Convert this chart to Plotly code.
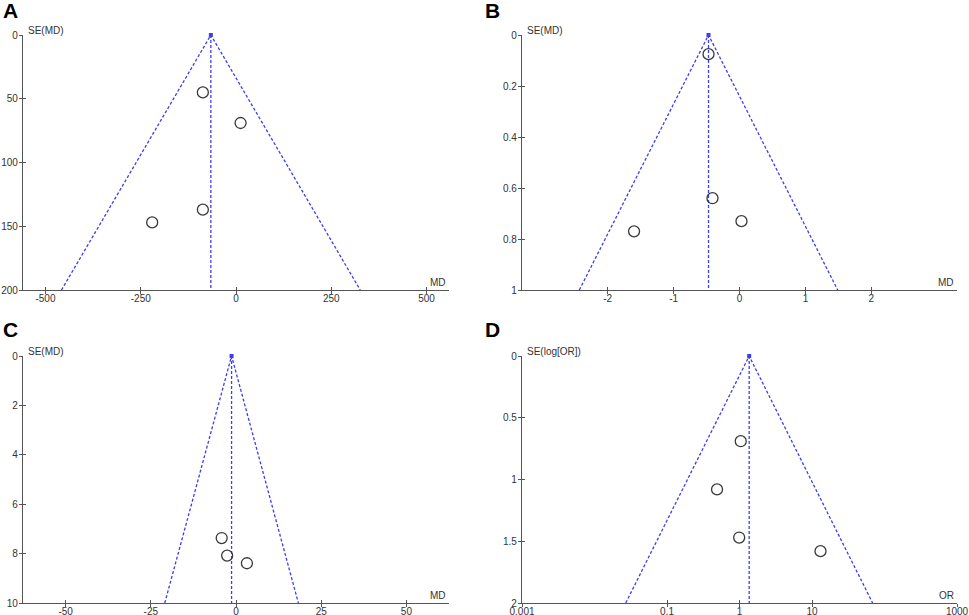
import math
import plotly.graph_objects as go

# ---------------- data ----------------
# Panel A : MD vs SE(MD)
a_md = [-87, 12, -87, -220]
a_se = [45, 69, 137, 147]
a_pooled = -66
a_se_max = 200
a_xticks = [-500, -250, 0, 250, 500]
a_yticks = [0, 50, 100, 150, 200]

# Panel B : MD vs SE(MD)
b_md = [-0.47, -0.41, 0.03, -1.60]
b_se = [0.075, 0.64, 0.73, 0.77]
b_pooled = -0.47
b_se_max = 1
b_xticks = [-2, -1, 0, 1, 2]
b_yticks = [0, 0.2, 0.4, 0.6, 0.8, 1]

# Panel C : MD vs SE(MD)
c_md = [-4.2, -2.6, 3.2]
c_se = [7.37, 8.08, 8.39]
c_pooled = -1.3
c_se_max = 10
c_xticks = [-50, -25, 0, 25, 50]
c_yticks = [0, 2, 4, 6, 8, 10]

# Panel D : OR vs SE(log[OR])
d_or = [1.04, 0.49, 0.99, 13.1]
d_se = [0.69, 1.08, 1.47, 1.58]
d_pooled = 1.36
d_se_max = 2
d_xticks = [0.001, 0.1, 1, 10, 1000]
d_xticklabels = ["0.001", "0.1", "1", "10", "1000"]
d_yticks = [0, 0.5, 1, 1.5, 2]

Z = 1.96

# ---------------- styling ----------------
BLUE = "#3d3df0"
AXC = "#555555"
TXT = "#333333"
FONT = "Liberation Sans, Arial, sans-serif"

fig = go.Figure()

panels = [
    dict(md=a_md, se=a_se, pooled=a_pooled, semax=a_se_max, log=False, n=""),
    dict(md=b_md, se=b_se, pooled=b_pooled, semax=b_se_max, log=False, n="2"),
    dict(md=c_md, se=c_se, pooled=c_pooled, semax=c_se_max, log=False, n="3"),
    dict(md=d_or, se=d_se, pooled=d_pooled, semax=d_se_max, log=True, n="4"),
]

for p in panels:
    xa, ya = "x" + p["n"], "y" + p["n"]
    c, s = p["pooled"], p["semax"]
    if p["log"]:
        lo = math.exp(math.log(c) - Z * s)
        hi = math.exp(math.log(c) + Z * s)
    else:
        lo, hi = c - Z * s, c + Z * s
    dash = dict(color=BLUE, width=1.3, dash="3px,2px")
    fig.add_trace(go.Scatter(x=[lo, c, hi], y=[s, 0, s], mode="lines",
                             line=dash, xaxis=xa, yaxis=ya, showlegend=False,
                             hoverinfo="skip"))
    fig.add_trace(go.Scatter(x=[c, c], y=[0, s], mode="lines",
                             line=dash, xaxis=xa, yaxis=ya, showlegend=False,
                             hoverinfo="skip"))
    fig.add_trace(go.Scatter(x=[c], y=[0], mode="markers",
                             marker=dict(color=BLUE, size=4, symbol="square"),
                             xaxis=xa, yaxis=ya, showlegend=False, cliponaxis=False))
    fig.add_trace(go.Scatter(x=p["md"], y=p["se"], mode="markers",
                             marker=dict(symbol="circle-open", size=11,
                                         color="#3a3a3a", line=dict(width=1.3)),
                             xaxis=xa, yaxis=ya, showlegend=False))

W, H = 969, 615
def fx(px):
    return px / W
def fy(py):
    return 1 - py / H

left_dom = [fx(23), fx(449)]
right_dom = [fx(522), fx(957)]
top_dom = [fy(290), fy(35)]
bot_dom = [fy(603), fy(356)]

tickfont = dict(family=FONT, size=10, color=TXT)

def lab(v):
    return ("%g" % v)

def xaxis(dom, anchor, rng, tickvals, ticktext=None, typ="linear"):
    return dict(domain=dom, anchor=anchor, range=rng, type=typ,
                automargin=False,
                showgrid=False, zeroline=False, showline=True, linecolor=AXC,
                linewidth=1.2, ticks="outside", ticklen=3, tickcolor=AXC,
                tickwidth=1.2, tickmode="array", tickvals=tickvals,
                ticktext=ticktext if ticktext is not None else [lab(v) for v in tickvals],
                tickfont=tickfont, ticklabelstandoff=-4)

def yaxis(dom, anchor, rng, tickvals):
    return dict(domain=dom, anchor=anchor, range=rng, automargin=False,
                showgrid=False, zeroline=False, showline=True, linecolor=AXC,
                linewidth=1.2, ticks="outside", ticklen=3, tickcolor=AXC,
                tickwidth=1.2, tickmode="array", tickvals=tickvals,
                ticktext=[lab(v) for v in tickvals],
                tickfont=tickfont, ticklabelstandoff=-1)

lay = dict(
    width=W, height=H, margin=dict(l=0, r=0, t=0, b=0),
    plot_bgcolor="white", paper_bgcolor="white",
    font=dict(family=FONT, color=TXT),
    xaxis=xaxis(left_dom, "y", [-559, 559], a_xticks),
    yaxis=yaxis(top_dom, "x", [a_se_max, 0], a_yticks),
    xaxis2=xaxis(right_dom, "y2", [-3.3, 3.3], b_xticks),
    yaxis2=yaxis(top_dom, "x2", [b_se_max, 0], b_yticks),
    xaxis3=xaxis(left_dom, "y3", [-62.5, 62.5], c_xticks),
    yaxis3=yaxis(bot_dom, "x3", [c_se_max, 0], c_yticks),
    xaxis4=xaxis(right_dom, "y4", [-3, 3], d_xticks, d_xticklabels, "log"),
    yaxis4=yaxis(bot_dom, "x4", [d_se_max, 0], d_yticks),
)

# overlay axes giving the inner half of the crossing tick marks
inner = [("", [-559, 559], a_xticks, [a_se_max, 0], a_yticks, "linear"),
         ("2", [-3.3, 3.3], b_xticks, [b_se_max, 0], b_yticks, "linear"),
         ("3", [-62.5, 62.5], c_xticks, [c_se_max, 0], c_yticks, "linear"),
         ("4", [-3, 3], d_xticks, [d_se_max, 0], d_yticks, "log")]
for i, (n, xr, xt, yr, yt, typ) in enumerate(inner):
    k = str(5 + i)
    base_x, base_y = "x" + n, "y" + n
    lay["xaxis" + k] = dict(overlaying=base_x, anchor=base_y, side="bottom",
                            range=xr, type=typ, showgrid=False, zeroline=False,
                            automargin=False,
                            showline=False, ticks="inside", ticklen=3,
                            tickcolor=AXC, tickwidth=1.2, tickmode="array",
                            tickvals=xt, showticklabels=False)
    lay["yaxis" + k] = dict(overlaying=base_y, anchor=base_x, side="left",
                            range=yr, showgrid=False, zeroline=False,
                            automargin=False,
                            showline=False, ticks="inside", ticklen=3,
                            tickcolor=AXC, tickwidth=1.2, tickmode="array",
                            tickvals=yt, showticklabels=False)
    fig.add_trace(go.Scatter(x=[], y=[], xaxis="x" + k, yaxis="y" + k,
                             showlegend=False))

fig.update_layout(**lay)

ann = []
small = dict(family=FONT, size=10, color=TXT)
for n, ytitle, xtitle in [("", "SE(MD)", "MD"), ("2", "SE(MD)", "MD"),
                          ("3", "SE(MD)", "MD"), ("4", "SE(log[OR])", "OR")]:
    ax = "x" + n
    ay = "y" + n
    ann.append(dict(text=ytitle, xref=ax + " domain", yref=ay + " domain",
                    x=0, y=1, xanchor="left", yanchor="bottom", xshift=3,
                    yshift=-3, showarrow=False, font=small))
    ann.append(dict(text=xtitle, xref=ax + " domain", yref=ay + " domain",
                    x=1, y=0, xanchor="right", yanchor="bottom", xshift=-1,
                    yshift=0, showarrow=False, font=small))

letter = dict(family="Liberation Sans, Arial, sans-serif", size=21, color="black")
for txt, x, y in [("<b>A</b>", 1, -3), ("<b>B</b>", 483, -3),
                  ("<b>C</b>", 1, 316), ("<b>D</b>", 483, 316)]:
    ann.append(dict(text=txt, xref="paper", yref="paper", x=x / W, y=1 - y / H,
                    xanchor="left", yanchor="top", showarrow=False, font=letter))

fig.update_layout(annotations=ann)

fig.write_html("out.html",
               config={"displayModeBar": False},
               post_script="document.body.style.margin='0';"
                           "document.body.style.overflow='hidden';")
